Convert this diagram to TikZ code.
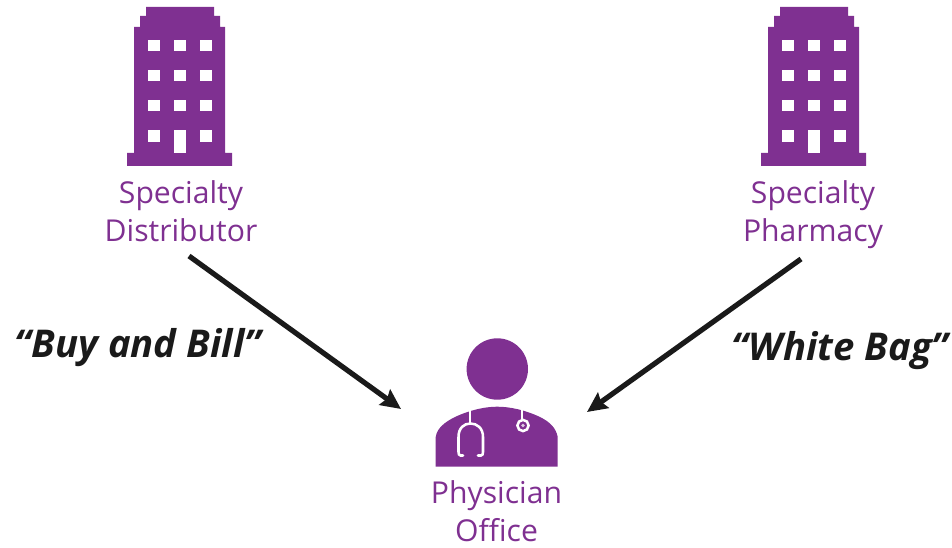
\documentclass[tikz,border=0pt]{standalone}
\usepackage{fontspec}
\setmainfont{Open Sans}
\usetikzlibrary{arrows.meta}
\definecolor{brandpurple}{HTML}{7F3091}
\definecolor{inkdark}{HTML}{1A1A1A}
\tikzset{
  x=0.75pt,y=-0.75pt,
  iconfill/.style={fill=brandpurple,draw=none},
  window/.style={fill=white,draw=none},
  entitylabel/.style={text=brandpurple,font=\fontsize{22.6}{28.5}\selectfont,align=center,inner sep=0pt,anchor=base},
  flowlabel/.style={text=inkdark,font=\fontsize{28.7}{30}\selectfont\bfseries\itshape,inner sep=0pt,anchor=base},
  flow/.style={draw=inkdark,line width=3.9pt,-{Stealth[length=15pt,width=14pt,inset=2pt]}},
  scopeline/.style={draw=white,line width=1.9pt,line cap=round,fill=none}
}
\newcommand{\buildingicon}[1]{%
  \begin{scope}[shift={(#1,0)}]
    \fill[iconfill] (127,166) -- (127,153) -- (134,153) -- (134,27) -- (140,27) -- (140,16) -- (146,16) -- (146,7)
      -- (214,7) -- (214,16) -- (220,16) -- (220,27) -- (225,27) -- (225,153) -- (232,153) -- (232,166) -- cycle;
    \foreach \wy in {40,70,100}{
      \foreach \wx in {148,174,200}{
        \fill[window] (\wx,\wy) rectangle +(11.5,11.5);
      }
    }
    \fill[window] (148,130.5) rectangle +(11.5,11.5);
    \fill[window] (200,130.5) rectangle +(11.5,11.5);
    \fill[window] (174,130.5) rectangle (185.5,153);
  \end{scope}}
\begin{document}
\begin{tikzpicture}
\useasboundingbox (0,0) rectangle (952,548);
\buildingicon{0}
\buildingicon{634}
% physician
\fill[iconfill] (497.3,369) circle[radius=30.7];
\fill[iconfill] (435.7,466.7) -- (435.7,437) .. controls (437,428) and (445,422) .. (455,417)
  .. controls (470,410) and (485,406.7) .. (497,406.7)
  .. controls (510,406.7) and (525,410) .. (540,417)
  .. controls (550,422) and (556,428) .. (557.7,437) -- (557.7,466.7) -- cycle;
\draw[scopeline] (470,407) -- (470,423);
\draw[scopeline] (463,455.5) -- (460.5,455.5) .. controls (459,455.5) and (458.5,454) .. (458.5,452)
  -- (458.5,437) .. controls (458.5,428) and (464,423.5) .. (470.5,423.5)
  .. controls (477,423.5) and (483,428) .. (483,437)
  -- (483,452) .. controls (483,454) and (482.5,455.5) .. (481,455.5) -- (478,455.5);
\draw[scopeline] (522,407) -- (522,419);
\draw[scopeline] (523,425.5) circle[radius=5.6];
\fill[white,opacity=0.75] (523,425.5) circle[radius=1.8];
% labels
\node[entitylabel] (distributor) at (181,242) {Specialty\\Distributor};
\node[entitylabel] (pharmacy) at (813,242) {Specialty\\Pharmacy};
\node[entitylabel] (office) at (496.5,541) {Physician\\Office};
\node[flowlabel] (buybill) at (138,358) {“Buy and Bill”};
\node[flowlabel] (whitebag) at (840,361) {“White Bag”};
% connectors
\coordinate (distOut) at (189,256);
\coordinate (officeInL) at (401,409);
\coordinate (pharmOut) at (801,259);
\coordinate (officeInR) at (587,412);
\draw[flow] (distOut) -- (officeInL);
\draw[flow] (pharmOut) -- (officeInR);
\end{tikzpicture}
\end{document}
